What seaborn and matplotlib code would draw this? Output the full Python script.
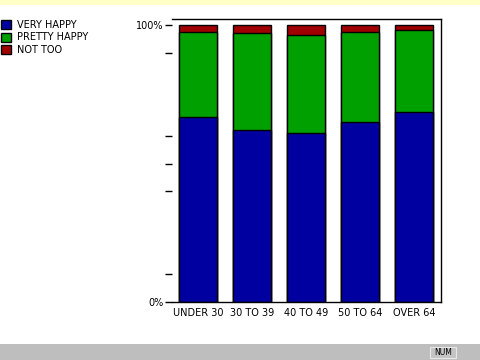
import numpy as np
import pandas as pd
import matplotlib
matplotlib.use('Agg')
import matplotlib.pyplot as plt
import seaborn as sns
from matplotlib.patches import Rectangle

# values (percent of each age group)
age_groups = ['UNDER 30', '30 TO 39', '40 TO 49', '50 TO 64', 'OVER 64']
very_happy = [66.8, 62.2, 60.9, 64.9, 68.5]
pretty_happy = [30.8, 34.8, 35.7, 32.6, 29.6]
not_too = [2.4, 3.0, 3.4, 2.5, 1.9]
series_names = ['VERY HAPPY', 'PRETTY HAPPY', 'NOT TOO']
series_colors = ['#0000a0', '#00a000', '#a00000']
y_ticks = [0, 10, 40, 50, 60, 90, 100]

sns.set_style('white')
plt.rcParams['font.family'] = ['DejaVu Sans']
plt.rcParams['text.color'] = 'black'
plt.rcParams['xtick.color'] = 'black'
plt.rcParams['ytick.color'] = 'black'

df = pd.DataFrame({
    'group': age_groups,
    'VERY HAPPY': very_happy,
    'PRETTY HAPPY': pretty_happy,
    'NOT TOO': not_too,
})
# cumulative tops for stacking
df['top_vh'] = df['VERY HAPPY']
df['top_ph'] = df['top_vh'] + df['PRETTY HAPPY']
df['top_nt'] = df['top_ph'] + df['NOT TOO']

fig = plt.figure(figsize=(4.8, 3.6), dpi=100)
fig.patch.set_facecolor('white')
ax = fig.add_axes([172 / 480, 1 - 302 / 360, (441 - 172) / 480, (302 - 19) / 360])

# window chrome: yellow strip on top, grey status bar below
fig.patches.append(Rectangle((0, 1 - 5 / 360), 1, 5 / 360, transform=fig.transFigure,
                             facecolor='#ffffc8', edgecolor='none', zorder=0))
fig.patches.append(Rectangle((0, 0), 1, 16 / 360, transform=fig.transFigure,
                             facecolor='#bebebe', edgecolor='none', zorder=0))
fig.patches.append(Rectangle((430 / 480, 2 / 360), 26 / 480, 11 / 360, transform=fig.transFigure,
                             facecolor='#c4c4c4', edgecolor='#e8e8e8', lw=0.8, zorder=1))
fig.text(443 / 480, 7.5 / 360, 'NUM', fontsize=5.5, ha='center', va='center', color='black')

for col, name, color in zip(['top_nt', 'top_ph', 'top_vh'], series_names[::-1], series_colors[::-1]):
    sns.barplot(data=df, x='group', y=col, order=age_groups, color=color, width=0.70,
                edgecolor='black', linewidth=1.0, saturation=1, label=name, ax=ax)

ax.set_xlim(-0.48, 4.5)
ax.set_ylim(0, 102.2)
ax.set_xlabel('')
ax.set_ylabel('')

ax.set_yticks(y_ticks)
ax.set_yticklabels(['0%' if t == 0 else '100%' if t == 100 else '' for t in y_ticks])
ax.tick_params(axis='y', length=5, width=1, color='black', labelcolor='black', pad=1,
               labelsize=7, left=True)

ax.set_xticks(range(len(age_groups)))
ax.set_xticklabels(age_groups)
ax.tick_params(axis='x', length=0, pad=4, labelsize=7, labelcolor='black')
ax.set_xticks([0, len(age_groups) - 1], minor=True)
ax.tick_params(axis='x', which='minor', length=5, width=1, color='black', bottom=True)

ax.spines['left'].set_visible(False)
for s in ['top', 'right', 'bottom']:
    ax.spines[s].set_color('black')
    ax.spines[s].set_linewidth(1)

handles, labels = ax.get_legend_handles_labels()
if ax.legend_:
    ax.legend_.remove()
order = [labels.index(n) for n in series_names]
leg = fig.legend([handles[i] for i in order], series_names, loc='upper left',
                 bbox_to_anchor=(1 / 480, 1 - 20 / 360), frameon=False, fontsize=7,
                 handlelength=1.05, handleheight=1.05, handletextpad=0.55, labelspacing=0.25,
                 borderaxespad=0, borderpad=0)
for t in leg.get_texts():
    t.set_color('black')

fig.savefig('out.png', dpi=100)
